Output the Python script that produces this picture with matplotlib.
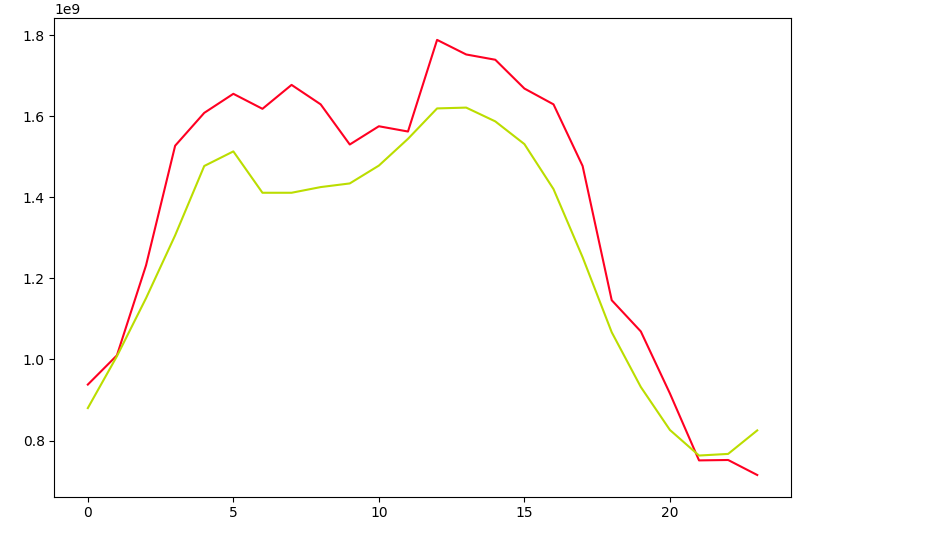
import numpy as np
import matplotlib
matplotlib.use("Agg")
import matplotlib.pyplot as plt

# hourly values (x1e9)
hours = list(range(24))
red_vals = [0.938, 1.010, 1.232, 1.527, 1.608, 1.655, 1.618, 1.677, 1.629, 1.530,
            1.575, 1.562, 1.788, 1.752, 1.739, 1.668, 1.629, 1.477, 1.146, 1.069,
            0.916, 0.751, 0.752, 0.715]
green_vals = [0.880, 1.008, 1.151, 1.306, 1.477, 1.513, 1.411, 1.411, 1.425, 1.434,
              1.478, 1.544, 1.619, 1.621, 1.587, 1.531, 1.420, 1.252, 1.067, 0.932,
              0.826, 0.763, 0.767, 0.825]

red = np.array(red_vals) * 1e9
green = np.array(green_vals) * 1e9

fig = plt.figure(figsize=(9.42, 5.33), dpi=100)
ax = fig.add_axes([0.0577, 0.068, 0.7817, 0.898])
ax.plot(hours, red, color='#ff0022', linewidth=1.5)
ax.plot(hours, green, color='#bbdd00', linewidth=1.5)
ax.set_xticks([0, 5, 10, 15, 20])

fig.savefig("out.png", dpi=100)
